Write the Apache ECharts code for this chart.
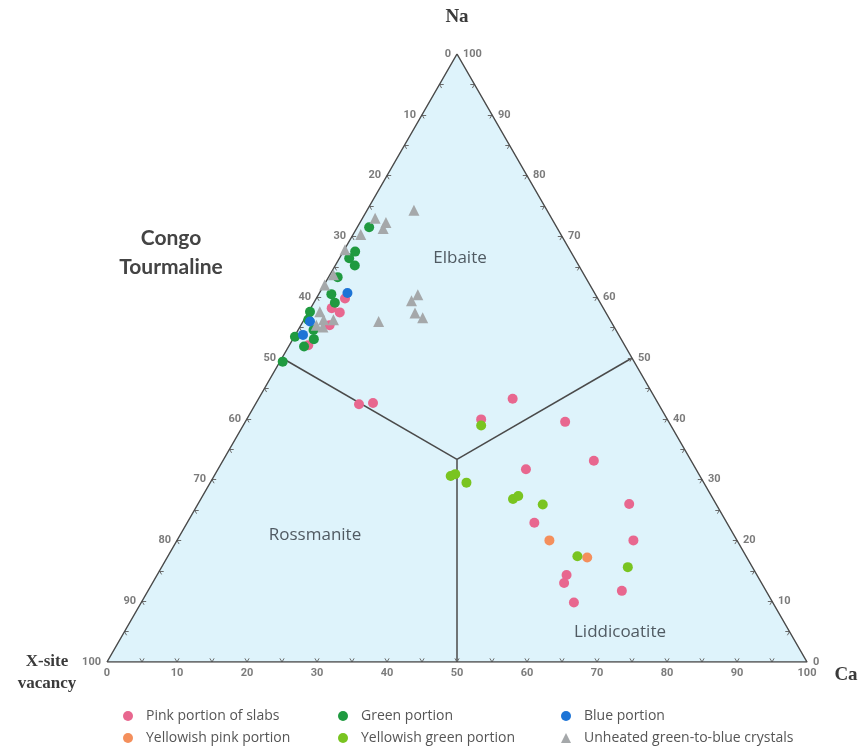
<!DOCTYPE html>
<html>
<head>
<meta charset="utf-8">
<script src="https://cdn.jsdelivr.net/npm/echarts@6/dist/echarts.min.js"></script>
<style>
  html, body { margin: 0; padding: 0; background: #fff; }
  #chart { width: 860px; height: 747px; }
</style>
</head>
<body>
<div id="chart"></div>
<script>
// ternary points as [Na, Ca]; X-site vacancy = 100 - Na - Ca
var pinkSlabs = [
  [43.3, 36.3], [39.5, 45.7], [33.1, 53.0], [31.7, 44.0], [26.0, 61.6], [22.9, 49.6],
  [20.0, 65.2], [14.3, 58.5], [13.0, 58.8], [11.7, 67.7], [9.8, 61.8], [42.4, 14.8],
  [42.6, 16.7], [39.9, 33.5], [59.8, 4.1], [58.2, 3.0], [57.5, 4.5], [55.4, 4.1], [52.1, 2.7]
]
var yellowishPink = [[20.0, 53.2], [17.2, 60.0]]
var greenPortion = [
  [71.5, 1.7], [67.5, 1.7], [66.4, 1.4], [65.2, 2.8], [63.3, 1.3], [60.5, 1.8], [59.1, 3.0],
  [57.6, 0.2], [56.3, 0.6], [54.6, 2.2], [53.5, 0.1], [53.1, 3.0], [51.9, 2.2], [49.4, 0.4]
]
var bluePortion = [[60.7, 4.0], [56.0, 1.0], [53.8, 1.1]]
var yellowishGreen = [
  [38.9, 34.0], [30.6, 33.8], [30.9, 34.3], [29.5, 36.6], [26.8, 44.6], [27.3, 45.1],
  [25.9, 49.3], [17.4, 58.5], [15.6, 66.6]
]
var unheated = [
  [74.3, 6.7], [73.0, 1.8], [72.3, 3.7], [71.3, 3.8], [70.3, 1.1], [67.8, 0.1], [63.7, 0.5],
  [62.0, 0.1], [57.6, 1.6], [56.3, 2.8], [55.4, 2.2], [56.3, 4.2], [55.1, 3.3], [60.4, 14.2],
  [59.4, 13.8], [57.4, 15.3], [56.6, 16.8], [56.0, 10.8]
]
var tickLabels = [0, 10, 20, 30, 40, 50, 60, 70, 80, 90, 100]
var minorTicks = [5, 10, 15, 20, 25, 30, 35, 40, 45, 50, 55, 60, 65, 70, 75, 80, 85, 90, 95]
// field boundaries meet at the centre
var fieldCentre = [33.33, 33.33]
var fieldEnds = [[50, 0], [50, 50], [0, 50]]

function tern(na, ca) { return [ca + na / 2, na] }

var TICK = 0.6
var tickSegs = []
minorTicks.forEach(function (k) {
  // bottom edge (Na = 0)
  tickSegs.push({ coords: [tern(0, k), tern(TICK, k)] })
  tickSegs.push({ coords: [tern(0, k), tern(TICK, k - TICK)] })
  // left edge (Ca = 0)
  tickSegs.push({ coords: [tern(k, 0), tern(k, TICK)] })
  tickSegs.push({ coords: [tern(k, 0), tern(k - TICK, TICK)] })
  // right edge (vacancy = 0)
  tickSegs.push({ coords: [tern(k, 100 - k), tern(k, 100 - k - TICK)] })
  tickSegs.push({ coords: [tern(k, 100 - k), tern(k - TICK, 100 - k)] })
})

var labelFont = { color: '#5a5a5a', fontSize: 11, fontWeight: 'bold', fontFamily: 'Liberation Sans Narrow, Roboto, sans-serif' }

function labelSeries(items, position) {
  return {
    type: 'scatter', silent: true, symbolSize: 0, z: 5,
    data: items.map(function (it) { return { value: it[0], name: String(it[1]) } }),
    label: Object.assign({ show: true, position: position, distance: 6, formatter: '{b}' }, labelFont)
  }
}

function dots(name, arr, color, symbol, size) {
  return {
    name: name, type: 'scatter', symbol: symbol, symbolSize: size, z: 10,
    data: arr.map(function (p) { return tern(p[0], p[1]) }),
    itemStyle: { color: color, opacity: 1 }
  }
}

var legendText = { color: '#555', fontSize: 14, fontFamily: 'Open Sans', padding: [0, 0, 0, 8] }
function legendItem(left, top, name) {
  return {
    data: [name], left: left, top: top, padding: 0,
    itemWidth: 10, itemHeight: 10, selectedMode: false, textStyle: legendText
  }
}

function txt(x, y, text, size, family, weight, color, lh) {
  return {
    type: 'text', x: x, y: y, z: 20,
    style: {
      text: text, fontSize: size, fontFamily: family, fontWeight: weight, fill: color,
      align: 'center', verticalAlign: 'middle', lineHeight: lh || size + 4
    }
  }
}

var chart = echarts.init(document.getElementById('chart'))
var option = {
  animation: false,
  grid: { left: 107, top: 54, width: 700, height: 608 },
  xAxis: { type: 'value', min: 0, max: 100, show: false },
  yAxis: { type: 'value', min: 0, max: 100, show: false },
  legend: [
    legendItem(123, 709, 'Pink portion of slabs'),
    legendItem(123, 731, 'Yellowish pink portion'),
    legendItem(338, 709, 'Green portion'),
    legendItem(338, 731, 'Yellowish green portion'),
    legendItem(561, 709, 'Blue portion'),
    legendItem(561, 731, 'Unheated green-to-blue crystals')
  ],
  series: [
    {
      type: 'line', silent: true, symbol: 'none', z: 1,
      data: [tern(0, 0), tern(100, 0), tern(0, 100)],
      lineStyle: { width: 0 },
      areaStyle: { color: '#def3fb', opacity: 1 }
    },
    {
      type: 'line', silent: true, symbol: 'none', z: 3,
      data: [tern(0, 0), tern(100, 0), tern(0, 100), tern(0, 0)],
      lineStyle: { color: '#4a4a4a', width: 1.5 }
    },
    {
      type: 'lines', coordinateSystem: 'cartesian2d', silent: true, z: 3,
      data: fieldEnds.map(function (e) {
        return { coords: [tern(fieldCentre[0], fieldCentre[1]), tern(e[0], e[1])] }
      }),
      lineStyle: { color: '#4a4a4a', width: 1.5, opacity: 1 }
    },
    {
      type: 'lines', coordinateSystem: 'cartesian2d', silent: true, z: 3,
      data: tickSegs,
      lineStyle: { color: '#6a6a6a', width: 1, opacity: 1 }
    },
    labelSeries(tickLabels.map(function (k) { return [tern(0, k), k] }), 'bottom'),
    labelSeries(tickLabels.map(function (k) { return [tern(100 - k, 0), k] }), 'left'),
    labelSeries(tickLabels.map(function (k) { return [tern(k, 100 - k), k] }), 'right'),
    dots('Pink portion of slabs', pinkSlabs, '#e8678f', 'circle', 10),
    dots('Yellowish pink portion', yellowishPink, '#f48f5c', 'circle', 10),
    dots('Green portion', greenPortion, '#1f9a40', 'circle', 10),
    dots('Blue portion', bluePortion, '#1d74d6', 'circle', 10),
    dots('Yellowish green portion', yellowishGreen, '#79c420', 'circle', 10),
    dots('Unheated green-to-blue crystals', unheated, '#a5a8aa', 'triangle', 11)
  ],
  graphic: [
    txt(457, 17, 'Na', 19, 'Liberation Serif', 'bold', '#3a3a3a'),
    txt(171, 253, 'Congo\nTourmaline', 21, 'Lato', 'bold', '#444', 29),
    txt(460, 258, 'Elbaite', 17, 'Open Sans', 'normal', '#505a62'),
    txt(315, 535, 'Rossmanite', 17, 'Open Sans', 'normal', '#505a62'),
    txt(620, 632, 'Liddicoatite', 17, 'Open Sans', 'normal', '#505a62'),
    txt(47, 673, 'X-site\nvacancy', 17, 'Liberation Serif', 'bold', '#3a3a3a', 22),
    txt(846, 675, 'Ca', 19, 'Liberation Serif', 'bold', '#3a3a3a')
  ]
}
chart.setOption(option)
</script>
</body>
</html>
